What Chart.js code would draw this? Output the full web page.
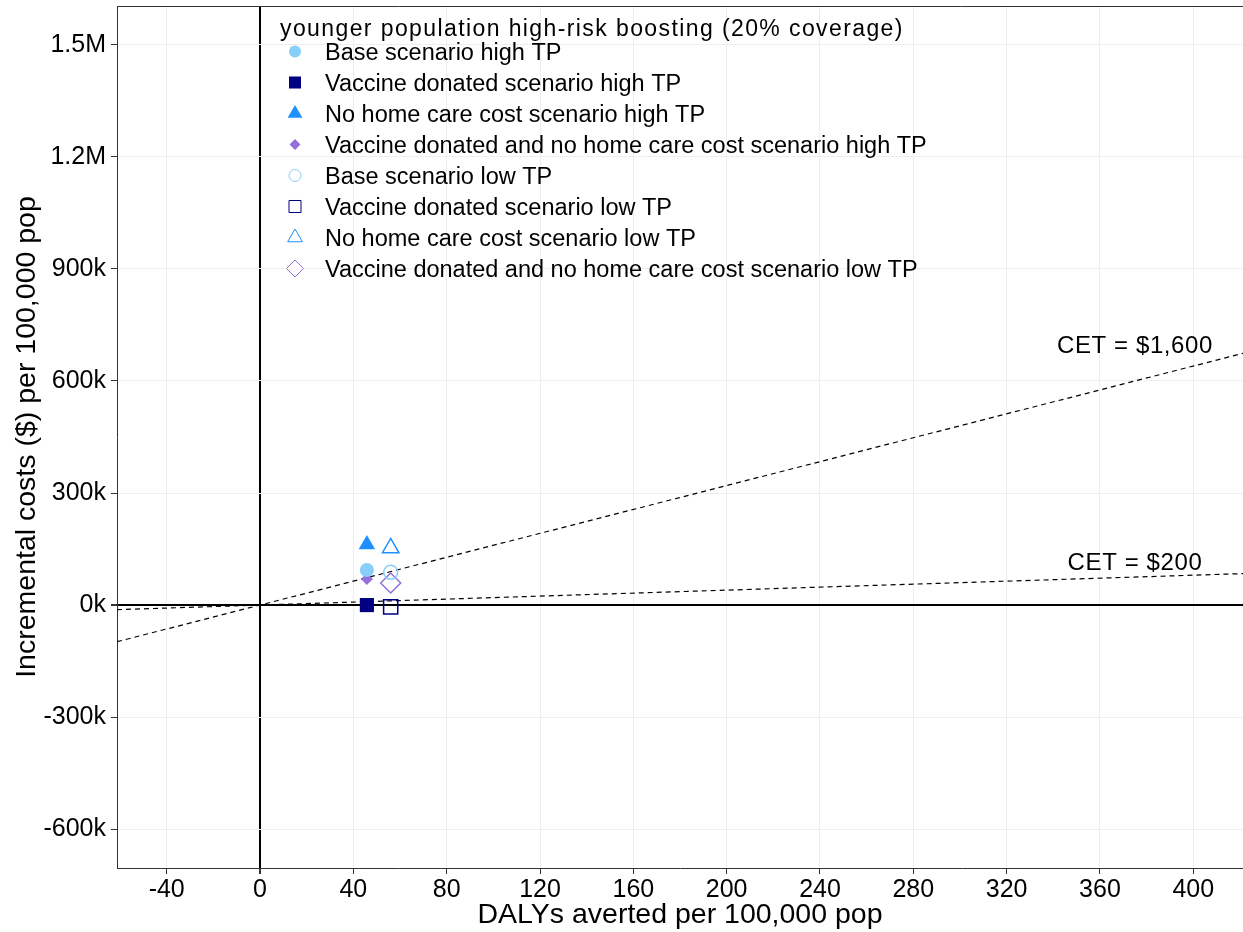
<!DOCTYPE html>
<html>
<head>
<meta charset="utf-8">
<script src="https://cdn.jsdelivr.net/npm/chart.js@4.4.1/dist/chart.umd.min.js"></script>
<style>
  html, body { margin: 0; padding: 0; background: #fff; }
  #wrap { width: 1243px; height: 932px; }
</style>
</head>
<body>
<div id="wrap"><canvas id="ceChart" width="1243" height="932"></canvas></div>
<script>
// scenario points (x = DALYs averted, y = incremental cost per 100,000 pop)
const scenarioLabels = [
    'Base scenario high TP',
    'Vaccine donated scenario high TP',
    'No home care cost scenario high TP',
    'Vaccine donated and no home care cost scenario high TP',
    'Base scenario low TP',
    'Vaccine donated scenario low TP',
    'No home care cost scenario low TP',
    'Vaccine donated and no home care cost scenario low TP'
];
const dalysAverted = [45.8, 45.8, 45.8, 45.8, 56, 56, 56, 56];
const incrementalCosts = [94000, 0, 162000, 70000, 88000, -5000, 153000, 59000];

// cost-effectiveness thresholds
const cetValues = [1600, 200];
const cetLabels = ['CET = $1,600', 'CET = $200'];

const xTickValues = [-40, 0, 40, 80, 120, 160, 200, 240, 280, 320, 360, 400];
const yTickValues = [-600000, -300000, 0, 300000, 600000, 900000, 1200000, 1500000];

const legendTitle = 'younger population high-risk boosting (20% coverage)';

const xMin = -61.3, xMax = 421.3;
const yMin = -704000, yMax = 1604000;

const colors = ['#87CEFA', '#000080', '#1E90FF', '#9370DB'];
const styles = [
    { pointStyle: 'circle', radius: 7, legendRadius: 6 },
    { pointStyle: 'rect', radius: 10, legendRadius: 8.5 },
    { pointStyle: 'triangle', radius: 9.5, legendRadius: 8.5 },
    { pointStyle: 'rectRot', radius: 6, legendRadius: 5.5 }
];

const pointSets = scenarioLabels.map((label, i) => {
    const c = colors[i % 4];
    const s = styles[i % 4];
    const open = i >= 4;
    return {
        type: 'scatter',
        label: label,
        data: [{ x: dalysAverted[i], y: incrementalCosts[i] }],
        pointStyle: s.pointStyle,
        pointRadius: open && s.pointStyle === 'rectRot' ? 10 : s.radius,
        pointBackgroundColor: open ? 'rgba(0,0,0,0)' : c,
        pointBorderColor: c,
        pointBorderWidth: open ? 1.5 : 0,
        order: 0
    };
});

const cetSets = cetValues.map((cet, i) => ({
    type: 'line',
    label: cetLabels[i],
    data: [{ x: xMin, y: cet * xMin }, { x: xMax, y: cet * xMax }],
    borderColor: '#000',
    borderWidth: 1.2,
    borderDash: [5, 4],
    pointRadius: 0,
    fill: false,
    order: 1
}));

function yLabel(v) {
    if (Math.abs(v) >= 1000000) return (v / 1000000) + 'M';
    return (v / 1000) + 'k';
}

const extras = {
    id: 'extras',
    afterDraw(chart) {
        const ctx = chart.ctx;
        const xs = chart.scales.x, ys = chart.scales.y;
        const area = chart.chartArea;
        ctx.save();
        // top border of panel
        ctx.strokeStyle = '#333';
        ctx.lineWidth = 1;
        ctx.beginPath();
        ctx.moveTo(area.left, area.top + 0.5);
        ctx.lineTo(area.right, area.top + 0.5);
        ctx.stroke();

        // CET annotations
        ctx.fillStyle = '#000';
        ctx.font = '24px "Liberation Sans", Arial, sans-serif';
        ctx.letterSpacing = '0.6px';
        ctx.textAlign = 'center';
        ctx.textBaseline = 'middle';
        const annY = [692000, 112000];
        cetLabels.forEach((t, i) => ctx.fillText(t, xs.getPixelForValue(375), ys.getPixelForValue(annY[i])));

        // legend
        ctx.textAlign = 'left';
        ctx.font = '23px "Liberation Sans", Arial, sans-serif';
        ctx.letterSpacing = '1.4px';
        ctx.fillText(legendTitle, 280, 30);
        ctx.letterSpacing = '0px';
        ctx.font = '23.5px "Liberation Sans", Arial, sans-serif';
        scenarioLabels.forEach((label, i) => {
            const y = 51.5 + i * 31;
            const c = colors[i % 4];
            const s = styles[i % 4];
            const open = i >= 4;
            ctx.fillStyle = open ? '#fff' : c;
            ctx.strokeStyle = c;
            Chart.helpers.drawPoint(ctx, {
                pointStyle: s.pointStyle,
                radius: open && s.pointStyle === 'rectRot' ? 8.5 : s.legendRadius,
                borderWidth: open ? 1.5 : 0,
                rotation: 0
            }, 295, y);
            ctx.fillStyle = '#000';
            ctx.fillText(label, 325, y + 2);
        });
        ctx.restore();
    }
};

const gridColor = c => (c.tick && c.tick.value === 0) ? '#000' : '#eeeeee';
const gridWidth = c => (c.tick && c.tick.value === 0) ? 2 : 1;
const noPad = s => { s.paddingLeft = 0; s.paddingRight = 0; s.paddingTop = 0; s.paddingBottom = 0; };

new Chart(document.getElementById('ceChart').getContext('2d'), {
    data: { datasets: [...pointSets, ...cetSets] },
    plugins: [extras],
    options: {
        responsive: false,
        animation: false,
        layout: { autoPadding: false, padding: { top: 6, right: 0, bottom: 0, left: 0 } },
        plugins: { legend: { display: false }, tooltip: { enabled: false } },
        scales: {
            x: {
                type: 'linear',
                min: xMin,
                max: xMax,
                afterBuildTicks: s => { s.ticks = xTickValues.map(v => ({ value: v })); },
                afterFit: s => { s.height = 64; noPad(s); },
                ticks: { color: '#000', font: { family: 'Liberation Sans', size: 25 }, padding: 1, maxRotation: 0 },
                grid: { color: gridColor, lineWidth: gridWidth, tickColor: '#333', tickLength: 6, drawTicks: true },
                border: { display: true, color: '#333', width: 1 },
                title: {
                    display: true,
                    text: 'DALYs averted per 100,000 pop',
                    color: '#000',
                    font: { family: 'Liberation Sans', size: 28.5 },
                    padding: { top: 2, bottom: 0 }
                }
            },
            y: {
                type: 'linear',
                min: yMin,
                max: yMax,
                afterBuildTicks: s => { s.ticks = yTickValues.map(v => ({ value: v })); },
                afterFit: s => { s.width = 117; noPad(s); },
                ticks: { color: '#000', font: { family: 'Liberation Sans', size: 25 }, padding: 5, callback: v => yLabel(v) },
                grid: { color: gridColor, lineWidth: gridWidth, tickColor: '#333', tickLength: 6 },
                border: { display: true, color: '#333', width: 1 },
                title: {
                    display: true,
                    text: 'Incremental costs ($) per 100,000 pop',
                    color: '#000',
                    font: { family: 'Liberation Sans', size: 28.5 },
                    padding: { top: 10, bottom: 0 }
                }
            }
        }
    }
});
</script>
</body>
</html>
